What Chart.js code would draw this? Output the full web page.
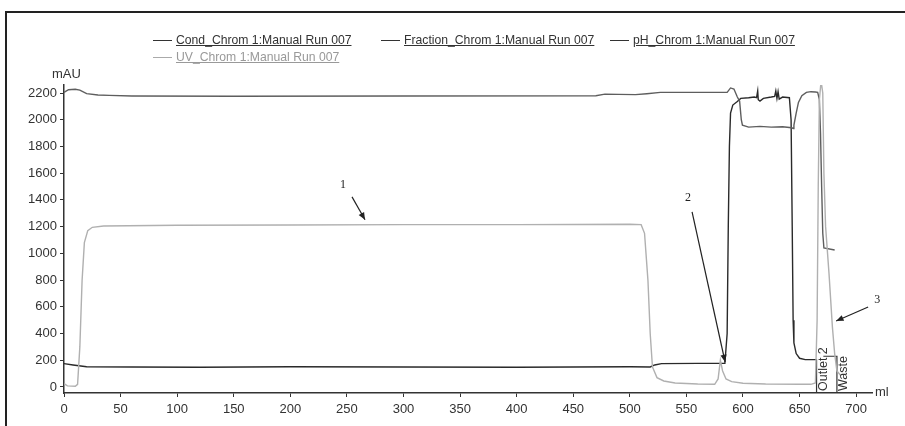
<!DOCTYPE html>
<html>
<head>
<meta charset="utf-8">
<script src="https://cdn.jsdelivr.net/npm/chart.js@4/dist/chart.umd.min.js"></script>
<style>
  body { margin:0; background:#fff; }
  .wrap { position:relative; width:905px; height:426px; overflow:hidden; background:#fff; }
  .frame { position:absolute; left:5px; top:11px; width:910px; height:430px; border-left:2px solid #222; border-top:2px solid #222; }
  canvas { position:absolute; left:0; top:0; }
  .leg { position:absolute; font-family:"Liberation Sans Narrow","Liberation Sans",Arial,sans-serif; font-size:12.2px; white-space:nowrap; }
  .leg span.l { display:inline-block; width:19px; height:0; border-top:1.5px solid #333; vertical-align:middle; margin-right:4px; }
  .leg span.t { text-decoration:underline; }
</style>
</head>
<body>
<div class="wrap">
  <canvas id="myChart"></canvas>
  <div class="frame"></div>
  <div class="leg" style="left:153px;top:33px;color:#333"><span class="l"></span><span class="t">Cond_Chrom 1:Manual Run 007</span></div>
  <div class="leg" style="left:381px;top:33px;color:#333"><span class="l"></span><span class="t">Fraction_Chrom 1:Manual Run 007</span></div>
  <div class="leg" style="left:610px;top:33px;color:#333"><span class="l"></span><span class="t">pH_Chrom 1:Manual Run 007</span></div>
  <div class="leg" style="left:153px;top:50px;color:#999"><span class="l" style="border-color:#aaa"></span><span class="t">UV_Chrom 1:Manual Run 007</span></div>
</div>
<script>
// ===== data (ml , mAU) =====
var uvX = [0,3,10,12,14,16,18,21,25,35,100,200,300,400,500,510,513,516,518,520,524,530,540,560,575,578,580,582,585,590,600,620,650,660,664,665.5,666.5,667.5,669,670.5,671.5,673,676,679,681,683,686];
var uvY = [25,8,5,20,300,800,1080,1170,1195,1205,1210,1212,1215,1215,1218,1215,1150,800,400,150,70,45,30,22,20,60,200,120,60,40,28,22,20,20,30,500,1500,2150,2290,2200,1600,1200,850,450,250,120,90];

var condX = [0,8,20,60,120,200,300,400,500,518,522,528,560,584,586,587,588,589,591,595,598,605,610,612,613,613.5,615,618,625,628,629,630,631,632,635,641,642.5,643.5,644.3,645,647,650,655,665];
var condY = [175,165,152,150,148,152,150,148,152,150,165,175,177,178,400,1200,1800,2050,2110,2137,2160,2165,2170,2165,2215,2150,2140,2160,2170,2175,2215,2160,2210,2155,2170,2165,2000,1200,500,330,250,215,205,205];

var phX = [0,4,10,14,20,30,40,60,150,300,470,478,490,505,515,527,586,589,592,595,597,598.5,599.5,605,615,625,635,643,644.5,645,647,649,652,656,660,664,666,667.5,668.5,669.5,670.5,671.5,681];
var phY = [2205,2225,2228,2222,2195,2185,2182,2178,2176,2178,2180,2192,2190,2188,2195,2205,2205,2238,2230,2170,2140,2000,1960,1945,1950,1945,1948,1940,1935,1960,2050,2130,2180,2205,2210,2208,2205,2150,1900,1500,1150,1040,1025];

// fraction marks
var fracX = [665, 665, null, 671, 683, 683];
var fracY = [-45, 205, null, 230, 230, -45];
var fracLabels = ['Outlet 2', 'Waste'];
var fracLabelX = [665, 683];

// axes
var xMin = 0, xMax = 714, xStep = 50;
var yMin = -45, yMax = 2260, yStep = 200;

// numbered arrows
var noteLabels = ['1', '2', '3'];
var noteX = [246.5, 551.5, 718.6];
var noteY = [1513, 1416, 652];
var arrowFromX = [254.5, 555, 710.6];
var arrowFromY = [1423, 1311, 599];
var arrowToX = [266, 584.2, 682.3];
var arrowToY = [1251, 187, 494];

function pts(xs, ys){
  var out = [];
  for (var i = 0; i < xs.length; i++){
    out.push(xs[i] === null ? {x: null, y: null} : {x: xs[i], y: ys[i]});
  }
  return out;
}

var font = '"Liberation Sans Narrow","Liberation Sans",Arial,sans-serif';

var extras = {
  id: 'extras',
  afterDatasetsDraw(chart){
    var c = chart.ctx, xs = chart.scales.x, ys = chart.scales.y;
    c.save();
    // axis titles
    c.fillStyle = '#333';
    c.font = '13px ' + font;
    c.textBaseline = 'middle';
    c.textAlign = 'left';
    c.fillText('mAU', 52, 74);
    c.fillText('ml', 875, 392);
    // fraction labels
    c.font = '12.5px ' + font;
    for (var i = 0; i < fracLabels.length; i++){
      var px = xs.getPixelForValue(fracLabelX[i]);
      c.save();
      c.translate(px + 7, 391);
      c.rotate(-Math.PI / 2);
      c.textAlign = 'left';
      c.fillText(fracLabels[i], 0, 0);
      c.restore();
    }
    // numbered arrows
    c.strokeStyle = '#222';
    c.fillStyle = '#222';
    c.lineWidth = 1.2;
    c.font = '12px "Liberation Serif","DejaVu Serif",serif';
    c.textAlign = 'center';
    for (var j = 0; j < noteLabels.length; j++){
      c.fillText(noteLabels[j], xs.getPixelForValue(noteX[j]), ys.getPixelForValue(noteY[j]));
      var x1 = xs.getPixelForValue(arrowFromX[j]), y1 = ys.getPixelForValue(arrowFromY[j]);
      var x2 = xs.getPixelForValue(arrowToX[j]), y2 = ys.getPixelForValue(arrowToY[j]);
      c.beginPath(); c.moveTo(x1, y1); c.lineTo(x2, y2); c.stroke();
      var a = Math.atan2(y2 - y1, x2 - x1), h = 8;
      c.beginPath();
      c.moveTo(x2, y2);
      c.lineTo(x2 - h * Math.cos(a - 0.4), y2 - h * Math.sin(a - 0.4));
      c.lineTo(x2 - h * Math.cos(a + 0.4), y2 - h * Math.sin(a + 0.4));
      c.closePath(); c.fill();
    }
    c.restore();
  }
};

var ctx = document.getElementById('myChart').getContext('2d');
ctx.canvas.width = 905; ctx.canvas.height = 426;

new Chart(ctx, {
  type: 'line',
  data: {
    datasets: [
      { label: 'UV', data: pts(uvX, uvY), borderColor: '#b0b0b0', borderWidth: 1.4 },
      { label: 'pH', data: pts(phX, phY), borderColor: '#5e5e5e', borderWidth: 1.4 },
      { label: 'Cond', data: pts(condX, condY), borderColor: '#2a2a2a', borderWidth: 1.4 },
      { label: 'Fraction', data: pts(fracX, fracY), borderColor: '#333', borderWidth: 1.2, spanGaps: false }
    ]
  },
  options: {
    responsive: false,
    animation: false,
    elements: { point: { radius: 0 }, line: { tension: 0 } },
    layout: { padding: { top: 85, right: 33, left: 0, bottom: 0 } },
    plugins: { legend: { display: false }, tooltip: { enabled: false } },
    scales: {
      x: {
        type: 'linear', min: xMin, max: xMax,
        afterFit: function(s){ s.height = 33; },
        ticks: { stepSize: xStep, includeBounds: false, color: '#333', font: { family: font, size: 13 }, padding: 5, maxRotation: 0,
                 callback: function(v){ return String(v); } },
        grid: { display: true, drawOnChartArea: false, tickLength: 4, color: '#333' },
        border: { color: '#333', width: 1.5 }
      },
      y: {
        type: 'linear', min: yMin, max: yMax,
        afterFit: function(s){ s.width = 64; },
        ticks: { stepSize: yStep, includeBounds: false, color: '#333', font: { family: font, size: 13 }, padding: 3,
                 callback: function(v){ return String(v); } },
        grid: { display: true, drawOnChartArea: false, tickLength: 4, color: '#333' },
        border: { color: '#333', width: 1.5 }
      }
    }
  },
  plugins: [extras]
});
</script>
</body>
</html>
